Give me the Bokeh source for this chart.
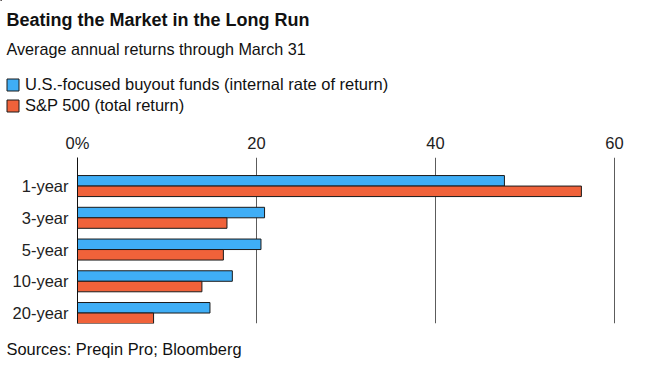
from bokeh.plotting import figure
from bokeh.layouts import column
from bokeh.models import (Range1d, FixedTicker, LinearAxis, Title, Legend, LegendItem, Label)
from bokeh.embed import file_html
from bokeh.resources import INLINE

categories = ["1-year", "3-year", "5-year", "10-year", "20-year"]
buyout = [47.7, 20.9, 20.5, 17.3, 14.8]
sp500 = [56.3, 16.7, 16.3, 13.9, 8.5]
x_ticks = [0, 20, 40, 60]
x_tick_labels = ["0%", "20", "40", "60"]
series_names = ["U.S.-focused buyout funds (internal rate of return)", "S&P 500 (total return)"]
colors = ["#3FAEF6", "#F0623A"]
title_text = "Beating the Market in the Long Run"
subtitle_text = "Average annual returns through March 31"
source_text = "Sources: Preqin Pro; Bloomberg"

FONT = "Liberation Sans"
W = 646
H_TOP = 120
H_MAIN = 266
EDGE = "#1a1a1a"

# ---------- header: title, subtitle, legend ----------
top = figure(width=W, height=H_TOP, output_backend="svg", toolbar_location=None,
             x_range=Range1d(0, W), y_range=Range1d(H_TOP, 0),
             x_axis_location=None, y_axis_location=None,
             min_border=0)
top.frame_align = False
top.outline_line_color = None
top.grid.grid_line_color = None

top.add_layout(Label(x=6, y=19, text=title_text, text_font=FONT, text_font_size="18px",
                     text_font_style="bold", text_color="#111111", text_baseline="middle"))
top.add_layout(Label(x=6, y=48, text=subtitle_text, text_font=FONT, text_font_size="16.2px",
                     text_color="#111111", text_baseline="middle"))

# legend swatches (renderers placed outside the visible range)
d1 = top.hbar(y=[-1000], left=[0], right=[1], height=1,
              fill_color=colors[0], line_color=EDGE, line_width=1)
d2 = top.hbar(y=[-1000], left=[0], right=[1], height=1,
              fill_color=colors[1], line_color=EDGE, line_width=1)
legend = Legend(items=[LegendItem(label=series_names[0], renderers=[d1]),
                       LegendItem(label=series_names[1], renderers=[d2])],
                location=(5, H_TOP - 116), orientation="vertical",
                label_text_font=FONT, label_text_font_size="16.5px", label_text_color="#111111",
                glyph_width=15, glyph_height=15, label_standoff=5, spacing=0, label_height=21,
                padding=0, margin=0, border_line_color=None, background_fill_alpha=0)
top.add_layout(legend, "center")

# ---------- main chart ----------
p = figure(width=W, height=H_MAIN, output_backend="svg", toolbar_location=None,
           x_range=Range1d(0, 63.35), y_range=Range1d(4.33, -0.90),
           x_axis_location=None, y_axis_location=None,
           min_border_left=77, min_border_right=2, min_border_top=37, min_border_bottom=63)
p.frame_align = False
p.outline_line_color = None

idx = list(range(len(categories)))
bh = 0.331
p.hbar(y=[i - bh / 2 for i in idx], right=buyout, left=0, height=bh,
       fill_color=colors[0], line_color=EDGE, line_width=1)
p.hbar(y=[i + bh / 2 for i in idx], right=sp500, left=0, height=bh,
       fill_color=colors[1], line_color=EDGE, line_width=1)

xa = LinearAxis(ticker=FixedTicker(ticks=x_ticks),
                major_label_overrides={t: l for t, l in zip(x_ticks, x_tick_labels)})
xa.axis_line_color = None
xa.major_tick_line_color = None
xa.minor_tick_line_color = None
xa.major_tick_out = 0
xa.major_tick_in = 0
xa.major_label_text_font = FONT
xa.major_label_text_font_size = "16.5px"
xa.major_label_text_color = "#222222"
xa.major_label_standoff = 6
p.add_layout(xa, "above")

ya = LinearAxis(ticker=FixedTicker(ticks=idx),
                major_label_overrides={i: c for i, c in zip(idx, categories)})
ya.axis_line_color = "#111111"
ya.axis_line_width = 1
ya.major_tick_line_color = None
ya.minor_tick_line_color = None
ya.major_tick_out = 0
ya.major_tick_in = 0
ya.major_label_text_font = FONT
ya.major_label_text_font_size = "16.5px"
ya.major_label_text_color = "#222222"
ya.major_label_standoff = 9
p.add_layout(ya, "left")

p.xgrid.ticker = FixedTicker(ticks=x_ticks[1:])
p.xgrid.grid_line_color = "#5c5c5c"
p.xgrid.grid_line_width = 1
p.ygrid.grid_line_color = None
p.grid.level = "underlay"

p.add_layout(Title(text=source_text, align="left", offset=-71,
                   text_font=FONT, text_font_size="16.4px", text_font_style="normal",
                   text_color="#111111", standoff=28), "below")

layout = column(top, p, spacing=0)
open("out.html", "w").write(file_html(layout, INLINE))
